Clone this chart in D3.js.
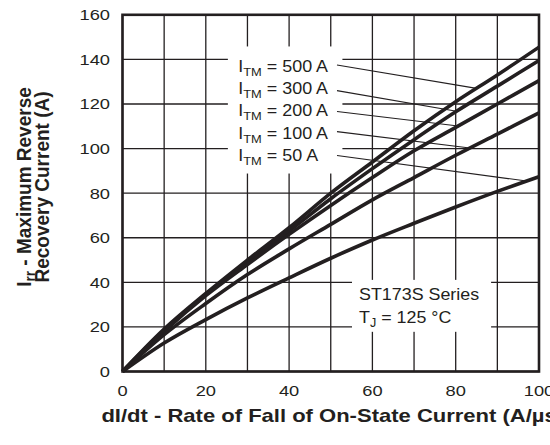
<!DOCTYPE html>
<html>
<head>
<meta charset="utf-8">
<script src="https://cdn.jsdelivr.net/npm/d3@7"></script>
<style>
  html, body { margin: 0; padding: 0; background: #fff; }
  svg { display: block; font-family: "Liberation Sans", Arial, Helvetica, sans-serif; }
</style>
</head>
<body>
<svg id="chart" width="550" height="445"></svg>
<script>
// ---------- data ----------
const xValues = [0, 10, 20, 30, 40, 50, 60, 70, 80, 90, 100];
const seriesNames = ["500", "300", "200", "100", "50"];
const i500 = [0, 19, 35, 50, 64.5, 80, 94, 108, 121, 133, 145.5];
const i300 = [0, 18.5, 34.5, 49, 63, 77.5, 91, 104, 116.5, 128, 139.5];
const i200 = [0, 18, 34, 48, 61.5, 74.5, 87, 99, 109.5, 120, 130.5];
const i100 = [0, 16.5, 30.5, 43.5, 55, 66, 77, 87, 97, 106.5, 116];
const i50  = [0, 12.8, 23.3, 33, 42, 50.8, 59, 66.5, 73.8, 80.8, 87.4];
const seriesValues = [i500, i300, i200, i100, i50];
const xTicks = [0, 20, 40, 60, 80, 100];
const yTicks = [0, 20, 40, 60, 80, 100, 120, 140, 160];
const xGrid = [0, 10, 20, 30, 40, 50, 60, 70, 80, 90, 100];
const yGrid = [0, 20, 40, 60, 80, 100, 120, 140, 160];
const labelY = [134.5, 124.5, 114.5, 104.5, 94.5];       // label baselines (data units)
const leaderStartY = [137.5, 126, 116.6, 107.6, 96.9];   // leader start (data units)
const leaderEndX = [85, 80.2, 80.6, 83.4, 97];            // where leaders meet curves
const xTitle = "dI/dt - Rate of Fall of On-State Current (A/µs)";
const note1 = "ST173S Series";

// ---------- layout ----------
const svg = d3.select("#chart");
const x = d3.scaleLinear().domain([0, 100]).range([122.5, 539]);
const y = d3.scaleLinear().domain([0, 160]).range([371.5, 14.8]);
const ink = "#231f20";

// grid
const g = svg.append("g");
g.selectAll(".vg").data(xGrid).enter().append("line")
  .attr("x1", d => x(d)).attr("x2", d => x(d))
  .attr("y1", y(0)).attr("y2", y(160))
  .attr("stroke", ink).attr("stroke-width", 1.3);
g.selectAll(".hg").data(yGrid).enter().append("line")
  .attr("x1", x(0)).attr("x2", x(100))
  .attr("y1", d => y(d)).attr("y2", d => y(d))
  .attr("stroke", ink).attr("stroke-width", 1.3);

// white label boxes
svg.append("rect")
  .attr("x", x(25.3)).attr("y", y(145.8))
  .attr("width", x(52.8) - x(25.3)).attr("height", y(88.8) - y(145.8))
  .attr("fill", "#fff");
svg.append("rect")
  .attr("x", x(55.1)).attr("y", y(41.1))
  .attr("width", x(88.5) - x(55.1)).attr("height", y(17.8) - y(41.1))
  .attr("fill", "#fff");

// frame
svg.append("rect")
  .attr("x", x(0)).attr("y", y(160))
  .attr("width", x(100) - x(0)).attr("height", y(0) - y(160))
  .attr("fill", "none").attr("stroke", ink).attr("stroke-width", 2.6);

// curves
const line = d3.line()
  .x((d, i) => x(xValues[i]))
  .y(d => y(d))
  .curve(d3.curveMonotoneX);
svg.selectAll(".curve").data(seriesValues).enter().append("path")
  .attr("d", d => line(d))
  .attr("fill", "none").attr("stroke", ink)
  .attr("stroke-width", 3.6).attr("stroke-linejoin", "round");

// value on a series at a given x (linear between read points)
function valueAt(vals, xv) {
  const interp = d3.scaleLinear().domain(xValues).range(vals);
  return interp(xv);
}

// leaders
seriesValues.forEach((vals, i) => {
  svg.append("line")
    .attr("x1", x(51.5)).attr("y1", y(leaderStartY[i]))
    .attr("x2", x(leaderEndX[i])).attr("y2", y(valueAt(vals, leaderEndX[i])))
    .attr("stroke", ink).attr("stroke-width", 1.1);
});

// helper for stretched text
function stretched(parent, px, py, sx, rot) {
  return parent.append("text")
    .attr("transform", `translate(${px},${py}) scale(${sx},1)` + (rot ? ` rotate(${rot})` : ""));
}

// series labels
seriesNames.forEach((n, i) => {
  const t = stretched(svg, x(27.8), y(labelY[i]), 1.12)
    .attr("font-size", 16).attr("fill", ink);
  t.append("tspan").text("I");
  t.append("tspan").attr("font-size", 11.5).attr("dy", 4).text("TM");
  t.append("tspan").attr("dy", -4).text(" = " + n + " A");
});

// note
stretched(svg, x(56.8), y(32.0), 1.05).attr("font-size", 17).attr("fill", ink).text(note1);
const tj = stretched(svg, x(56.8), y(21.8), 1.05).attr("font-size", 17).attr("fill", ink);
tj.append("tspan").text("T");
tj.append("tspan").attr("font-size", 12).attr("dy", 4).text("J");
tj.append("tspan").attr("dy", -4).text(" = 125 °C");

// tick labels
yTicks.forEach(v => {
  stretched(svg, 110, y(v) + 5.5, 1.18)
    .attr("font-size", 15.5).attr("fill", ink).attr("text-anchor", "end").text(v);
});
xTicks.forEach(v => {
  stretched(svg, x(v), 396, 1.18)
    .attr("font-size", 15.5).attr("fill", ink).attr("text-anchor", "middle").text(v);
});

// axis titles
stretched(svg, x(50) + 2, 421.5, 1.19)
  .attr("font-size", 18.5).attr("font-weight", "bold").attr("fill", ink)
  .attr("text-anchor", "middle").text(xTitle);

const yc = 187;
const yt1 = stretched(svg, 31, yc, 1.1, -90)
  .attr("font-size", 19).attr("font-weight", "bold").attr("fill", ink)
  .attr("text-anchor", "middle");
yt1.append("tspan").text("I");
yt1.append("tspan").attr("font-size", 13.5).attr("dy", 4).text("rr");
yt1.append("tspan").attr("dy", -4).text(" - Maximum Reverse");
stretched(svg, 48.5, yc, 1.1, -90)
  .attr("font-size", 19).attr("font-weight", "bold").attr("fill", ink)
  .attr("text-anchor", "middle").text("Recovery Current (A)");
</script>
</body>
</html>
